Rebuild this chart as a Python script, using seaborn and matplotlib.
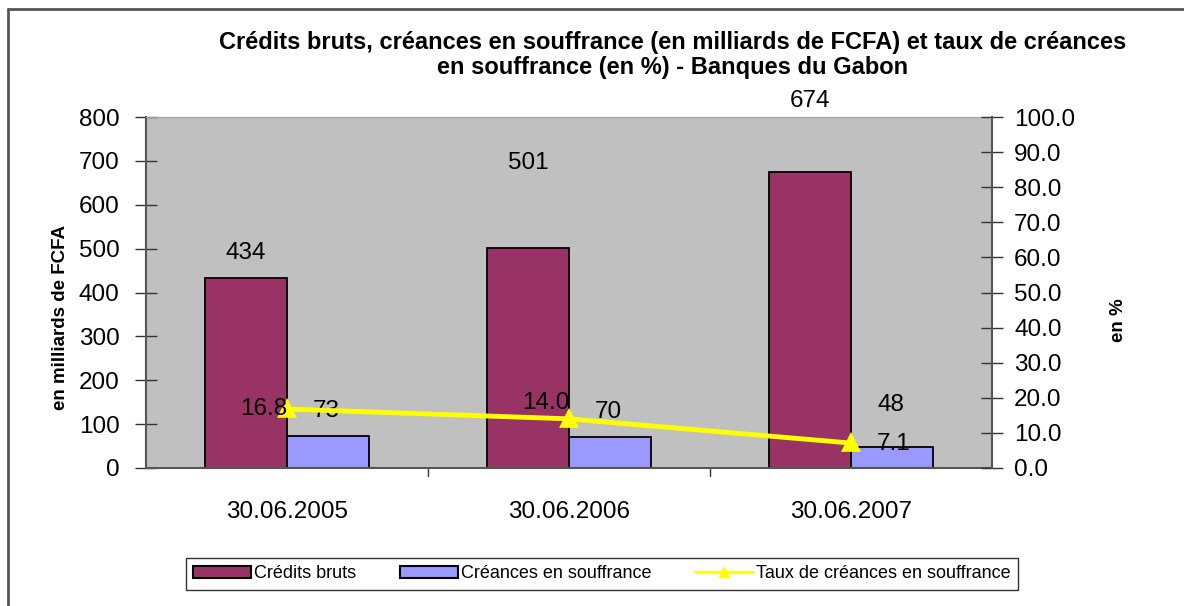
import pandas as pd
import seaborn as sns
import matplotlib.pyplot as plt
from matplotlib.patches import Patch
from matplotlib.lines import Line2D

dates = ['30.06.2005', '30.06.2006', '30.06.2007']
credits_bruts = [434, 501, 674]
creances = [73, 70, 48]
taux = [16.8, 14.0, 7.1]

series_names = ['Crédits bruts', 'Créances en souffrance']
rate_name = 'Taux de créances en souffrance'
colors = ['#993366', '#9999FF']
line_color = '#FFFF00'

sns.set_style('white')
plt.rcParams['font.family'] = ['Liberation Sans', 'DejaVu Sans']
plt.rcParams['text.color'] = 'black'
plt.rcParams['axes.labelcolor'] = 'black'
plt.rcParams['xtick.color'] = 'black'
plt.rcParams['ytick.color'] = 'black'

df = pd.DataFrame({
    'date': dates * 2,
    'serie': [series_names[0]] * 3 + [series_names[1]] * 3,
    'valeur': credits_bruts + creances,
})

fs = 17.5

fig = plt.figure(figsize=(11.84, 6.06), dpi=100)
ax = fig.add_axes([146 / 1184, 1 - 468 / 606, (992 - 146) / 1184, (468 - 117) / 606])
ax.set_facecolor('#C0C0C0')

sns.barplot(data=df, x='date', y='valeur', hue='serie', palette=colors, saturation=1,
            width=0.58, edgecolor='black', linewidth=1.3, ax=ax, legend=False)
ax.set_ylim(0, 800)
ax.set_xlim(-0.5, 2.5)
ax.set_yticks(range(0, 801, 100))
ax.set_xlabel('')
ax.set_ylabel('en milliards de FCFA', fontsize=13.5, fontweight='bold')
ax.yaxis.set_label_coords(-0.091, 0.43)
ax.tick_params(axis='y', labelsize=fs, direction='inout', length=16, width=1, color='#333333', pad=11)
ax.set_xticks([0, 1, 2])
ax.set_xticklabels(dates, fontsize=fs)
ax.tick_params(axis='x', length=0, pad=24)
for b in [0.5, 1.5]:
    ax.plot([b, b], [0, -18], color='#333333', lw=1, clip_on=False)

for s in ['left', 'bottom']:
    ax.spines[s].set_color('#555555')
    ax.spines[s].set_linewidth(1.5)
ax.spines['top'].set_color('#A0A0A0')
ax.spines['right'].set_visible(False)

ax2 = ax.twinx()
sns.pointplot(x=dates, y=taux, color=line_color, markers='^', markersize=10,
              linewidth=3.5, ax=ax2)
ax2.set_ylim(0, 100)
ax2.set_xlim(-0.5, 2.5)
ax2.set_yticks(range(0, 101, 10))
ax2.set_yticklabels([f'{v:.1f}' for v in range(0, 101, 10)])
ax2.tick_params(axis='y', labelsize=fs, direction='inout', length=16, width=1, color='#333333', pad=8)
ax2.set_ylabel('en %', fontsize=13.5, fontweight='bold')
ax2.yaxis.set_label_coords(1.1395, 0.42)
for s in ['left', 'bottom', 'top']:
    ax2.spines[s].set_visible(False)
ax2.spines['right'].set_color('#555555')
ax2.spines['right'].set_linewidth(1.5)

# data labels (positions follow the original Excel layout)
credit_offsets = [56, 194, 162]
creance_offsets = [57, 58, 96]
for i in range(3):
    ax.text(i - 0.145, credits_bruts[i] + credit_offsets[i], str(credits_bruts[i]),
            ha='center', va='center', fontsize=fs, clip_on=False)
    ax.text(i + 0.14, creances[i] + creance_offsets[i], str(creances[i]),
            ha='center', va='center', fontsize=fs)
rate_dx = [0.0, 0.0, 0.09]
rate_dy = [0.0, 4.5, -0.3]
rate_ha = ['right', 'right', 'left']
for i in range(3):
    ax2.text(i + rate_dx[i], taux[i] + rate_dy[i], f'{taux[i]:.1f}',
             ha=rate_ha[i], va='center', fontsize=fs)

fig.text(673 / 1184, 1 - 55 / 606,
         'Crédits bruts, créances en souffrance (en milliards de FCFA) et taux de créances\n'
         'en souffrance (en %) - Banques du Gabon',
         ha='center', va='center', fontsize=17, fontweight='bold', linespacing=1.15)

handles = [
    Patch(facecolor=colors[0], edgecolor='black', linewidth=1.5, label=series_names[0]),
    Patch(facecolor=colors[1], edgecolor='black', linewidth=1.5, label=series_names[1]),
    Line2D([], [], color=line_color, lw=2, marker='^', markersize=7, label=rate_name),
]
leg = fig.legend(handles=handles, loc='center', bbox_to_anchor=(602 / 1184, 1 - 574 / 606),
                 ncol=3, fontsize=13, frameon=True, fancybox=False, edgecolor='black',
                 handlelength=3.2, handleheight=0.6, columnspacing=2.4, handletextpad=0.2,
                 borderpad=0.4, borderaxespad=0)
leg.get_frame().set_linewidth(1)

# outer chart border (left and top visible in the original)
fig.add_artist(Line2D([8 / 1184, 8 / 1184], [0, 1 - 9 / 606], transform=fig.transFigure,
                      color='#555555', lw=2))
fig.add_artist(Line2D([8 / 1184, 1], [1 - 9 / 606, 1 - 9 / 606], transform=fig.transFigure,
                      color='#555555', lw=2))

fig.savefig('out.png', dpi=100)
